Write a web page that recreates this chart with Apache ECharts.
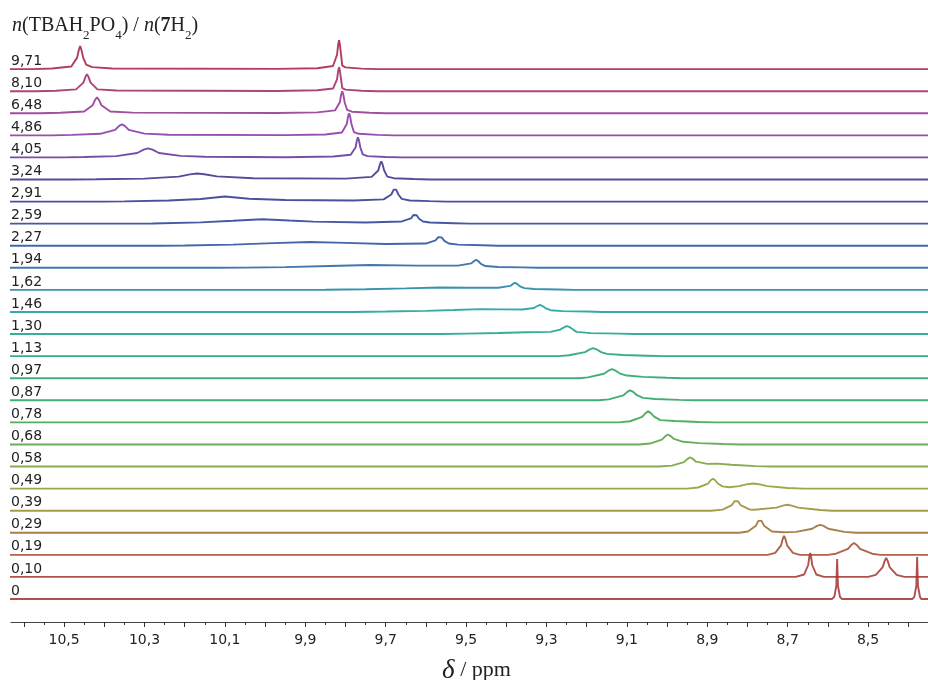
<!DOCTYPE html>
<html><head><meta charset="utf-8">
<script src="https://cdn.jsdelivr.net/npm/echarts@6/dist/echarts.min.js"></script>
<style>html,body{margin:0;padding:0;background:#fff}#c{width:928px;height:680px}</style>
</head><body><div id="c"></div>
<script>
// Ratio labels, bottom trace first
const ratioLabels = ['0','0,10','0,19','0,29','0,39','0,49','0,58','0,68','0,78','0,87','0,97','1,13','1,30','1,46','1,62','1,94','2,27','2,59','2,91','3,24','4,05','4,86','6,48','8,10','9,71'];

// Tick values (ppm)
const majorTicks = [8.4,8.5,8.6,8.7,8.8,8.9,9.0,9.1,9.2,9.3,9.4,9.5,9.6,9.7,9.8,9.9,10.0,10.1,10.2,10.3,10.4,10.5,10.6];
const minorTicks = [8.35,8.45,8.55,8.65,8.75,8.85,8.95,9.05,9.15,9.25,9.35,9.45,9.55,9.65,9.75,9.85,9.95,10.05,10.15,10.25,10.35,10.45,10.55];
const tickLabels = [8.5,8.7,8.9,9.1,9.3,9.5,9.7,9.9,10.1,10.3,10.5];

// Spectra: [ppm, intensity] (intensity in units of trace spacing)
const s0 = [[8.35,0],[8.368,0],[8.371,0.1],[8.376,0.6],[8.378,1.9],[8.380,0.6],[8.385,0.1],[8.39,0],[8.565,0],[8.570,0.1],[8.575,0.6],[8.577,1.81],[8.579,0.6],[8.584,0.1],[8.59,0],[10.64,0]];
const s1 = [[8.35,0],[8.41,0],[8.429,0.09],[8.446,0.43],[8.4515,0.74],[8.455,0.86],[8.4585,0.74],[8.464,0.43],[8.481,0.09],[8.50,0],[8.61,0],[8.629,0.11],[8.639,0.54],[8.642,0.93],[8.644,1.09],[8.646,0.93],[8.649,0.54],[8.659,0.11],[8.68,0],[10.64,0]];
const s2 = [[8.35,0],[8.47,0],[8.49,0.05],[8.52,0.27],[8.529,0.46],[8.535,0.54],[8.541,0.46],[8.55,0.27],[8.58,0.05],[8.60,0],[8.67,0],[8.687,0.09],[8.7015,0.43],[8.706,0.74],[8.709,0.86],[8.712,0.74],[8.7165,0.43],[8.731,0.09],[8.75,0],[10.64,0]];
const s3 = [[8.35,0],[8.53,0],[8.559,0.04],[8.599,0.18],[8.611,0.31],[8.619,0.36],[8.627,0.31],[8.639,0.18],[8.679,0.04],[8.71,0.02],[8.739,0.06],[8.759,0.32],[8.765,0.54],[8.769,0.63],[8.773,0.54],[8.779,0.32],[8.799,0.06],[8.82,0],[10.64,0]];
const s4 = [[8.35,0],[8.59,0],[8.619,0.03],[8.674,0.14],[8.690,0.23],[8.701,0.27],[8.712,0.23],[8.728,0.14],[8.783,0.04],[8.794,0.05],[8.817,0.25],[8.8235,0.43],[8.828,0.5],[8.8325,0.43],[8.839,0.25],[8.862,0.05],[8.89,0],[10.64,0]];
const s5 = [[8.35,0],[8.66,0],[8.70,0.03],[8.751,0.11],[8.772,0.2],[8.786,0.23],[8.80,0.2],[8.821,0.11],[8.845,0.06],[8.862,0.1],[8.874,0.23],[8.881,0.39],[8.886,0.45],[8.891,0.39],[8.898,0.23],[8.923,0.05],[8.95,0],[10.64,0]];
const s6 = [[8.35,0],[8.74,0],[8.78,0.02],[8.84,0.08],[8.876,0.13],[8.90,0.12],[8.928,0.22],[8.937,0.36],[8.943,0.41],[8.949,0.35],[8.958,0.2],[8.988,0.04],[9.02,0],[10.64,0]];
const s7 = [[8.35,0],[8.82,0],[8.86,0.02],[8.92,0.06],[8.96,0.12],[8.983,0.25],[8.992,0.39],[8.998,0.45],[9.004,0.38],[9.013,0.22],[9.043,0.04],[9.07,0],[10.64,0]];
const s8 = [[8.35,0],[8.88,0],[8.92,0.02],[8.98,0.06],[9.017,0.1],[9.032,0.26],[9.041,0.43],[9.047,0.5],[9.053,0.43],[9.062,0.25],[9.092,0.05],[9.12,0],[10.64,0]];
const s9 = [[8.35,0],[8.93,0],[8.97,0.02],[9.03,0.06],[9.06,0.11],[9.075,0.23],[9.085,0.39],[9.092,0.45],[9.099,0.38],[9.109,0.22],[9.145,0.04],[9.17,0],[10.64,0]];
const s10 = [[8.35,0],[8.96,0],[9.00,0.02],[9.06,0.06],[9.10,0.12],[9.117,0.21],[9.129,0.35],[9.137,0.41],[9.145,0.35],[9.157,0.2],[9.197,0.04],[9.22,0],[10.64,0]];
const s11 = [[8.35,0],[9.01,0],[9.05,0.02],[9.11,0.05],[9.15,0.1],[9.164,0.18],[9.176,0.31],[9.184,0.36],[9.192,0.31],[9.204,0.18],[9.244,0.04],[9.27,0],[10.64,0]];
const s12 = [[8.35,0],[9.08,0],[9.12,0.02],[9.19,0.04],[9.225,0.1],[9.232,0.18],[9.242,0.31],[9.249,0.36],[9.256,0.31],[9.266,0.2],[9.29,0.1],[9.35,0.08],[9.42,0.05],[9.50,0.02],[9.56,0],[10.64,0]];
const s13 = [[8.35,0],[9.16,0],[9.20,0.02],[9.26,0.04],[9.29,0.08],[9.301,0.16],[9.31,0.27],[9.316,0.32],[9.322,0.28],[9.331,0.18],[9.36,0.11],[9.41,0.12],[9.465,0.13],[9.53,0.09],[9.60,0.05],[9.70,0.02],[9.78,0],[10.64,0]];
const s14 = [[8.35,0],[9.23,0],[9.27,0.02],[9.33,0.04],[9.355,0.08],[9.366,0.16],[9.373,0.27],[9.378,0.32],[9.383,0.28],[9.39,0.18],[9.42,0.1],[9.49,0.1],[9.565,0.11],[9.65,0.07],[9.75,0.03],[9.85,0.01],[9.92,0],[10.64,0]];
const s15 = [[8.35,0],[9.32,0],[9.36,0.02],[9.42,0.04],[9.452,0.08],[9.463,0.18],[9.47,0.31],[9.475,0.36],[9.48,0.31],[9.487,0.2],[9.52,0.1],[9.62,0.1],[9.739,0.13],[9.84,0.08],[9.95,0.03],[10.05,0.01],[10.12,0],[10.64,0]];
const s16 = [[8.35,0],[9.42,0],[9.46,0.02],[9.52,0.05],[9.543,0.1],[9.554,0.22],[9.561,0.38],[9.565,0.45],[9.569,0.39],[9.576,0.24],[9.60,0.1],[9.70,0.08],[9.80,0.13],[9.888,0.17],[9.98,0.12],[10.08,0.05],[10.2,0.01],[10.26,0],[10.64,0]];
const s17 = [[8.35,0],[9.49,0],[9.53,0.02],[9.59,0.05],[9.607,0.1],[9.617,0.22],[9.623,0.38],[9.627,0.45],[9.631,0.39],[9.637,0.24],[9.66,0.1],[9.75,0.05],[9.88,0.09],[9.94,0.14],[10.007,0.2],[10.08,0.13],[10.16,0.06],[10.28,0.01],[10.34,0],[10.64,0]];
const s18 = [[8.35,0],[9.55,0],[9.59,0.02],[9.64,0.05],[9.66,0.12],[9.668,0.31],[9.674,0.54],[9.677,0.63],[9.680,0.54],[9.686,0.32],[9.705,0.1],[9.78,0.05],[9.95,0.07],[10.04,0.13],[10.10,0.23],[10.16,0.12],[10.24,0.05],[10.35,0.01],[10.40,0],[10.64,0]];
const s19 = [[8.35,0],[9.59,0],[9.63,0.02],[9.68,0.06],[9.696,0.13],[9.7035,0.4],[9.708,0.7],[9.711,0.82],[9.714,0.7],[9.7185,0.41],[9.735,0.12],[9.80,0.04],[10.03,0.06],[10.12,0.14],[10.151,0.24],[10.169,0.27],[10.187,0.23],[10.215,0.13],[10.30,0.04],[10.42,0.01],[10.48,0],[10.64,0]];
const s20 = [[8.35,0],[9.66,0],[9.70,0.02],[9.745,0.06],[9.757,0.14],[9.763,0.45],[9.7665,0.78],[9.769,0.91],[9.7715,0.78],[9.775,0.45],[9.787,0.12],[9.83,0.04],[9.95,0.01],[10.15,0.03],[10.21,0.07],[10.264,0.2],[10.28,0.35],[10.291,0.41],[10.302,0.35],[10.318,0.2],[10.37,0.06],[10.45,0.02],[10.50,0],[10.64,0]];
const s21 = [[8.35,0],[9.68,0],[9.72,0.02],[9.767,0.07],[9.779,0.15],[9.785,0.5],[9.7885,0.86],[9.791,1.0],[9.7935,0.86],[9.797,0.5],[9.809,0.13],[9.85,0.04],[9.95,0.01],[10.24,0.03],[10.30,0.08],[10.339,0.25],[10.349,0.43],[10.356,0.5],[10.363,0.43],[10.373,0.25],[10.41,0.07],[10.48,0.02],[10.53,0],[10.64,0]];
const s22 = [[8.35,0],[9.70,0],[9.74,0.02],[9.784,0.07],[9.796,0.15],[9.802,0.5],[9.8055,0.86],[9.808,1.0],[9.8105,0.86],[9.814,0.5],[9.826,0.13],[9.87,0.04],[9.97,0.01],[10.33,0.03],[10.385,0.08],[10.407,0.36],[10.4135,0.62],[10.418,0.72],[10.4225,0.62],[10.429,0.36],[10.45,0.08],[10.51,0.02],[10.56,0],[10.64,0]];
const s23 = [[8.35,0],[9.72,0],[9.76,0.02],[9.80,0.07],[9.808,0.14],[9.811,0.54],[9.814,0.94],[9.816,1.09],[9.818,0.94],[9.821,0.54],[9.831,0.12],[9.87,0.04],[9.97,0.01],[10.37,0.03],[10.417,0.08],[10.434,0.39],[10.4395,0.66],[10.443,0.77],[10.4465,0.66],[10.452,0.39],[10.47,0.08],[10.52,0.02],[10.57,0],[10.64,0]];
const s24 = [[8.35,0],[9.72,0],[9.76,0.02],[9.80,0.08],[9.808,0.16],[9.811,0.65],[9.814,1.13],[9.816,1.31],[9.818,1.13],[9.821,0.65],[9.831,0.14],[9.87,0.04],[9.97,0.01],[10.38,0.03],[10.43,0.09],[10.445,0.2],[10.4525,0.52],[10.457,0.89],[10.46,1.04],[10.463,0.89],[10.4675,0.52],[10.482,0.12],[10.53,0.03],[10.58,0],[10.64,0]];
const spectra = [s0,s1,s2,s3,s4,s5,s6,s7,s8,s9,s10,s11,s12,s13,s14,s15,s16,s17,s18,s19,s20,s21,s22,s23,s24];

// Trace colours (style)
const colors = ['#a2302f','#a2342c','#a0482a','#9a682a','#978a2e','#889a30','#6e9e32','#50a03c','#34a048','#22a058','#1ea064','#14a072','#12a082','#129c98','#1480a0','#205ea0','#224c9c','#243c92','#2a318c','#362c8a','#622e98','#8230a0','#922e92','#a02262','#a01c40'];

const fmt = v => v.toFixed(1).replace('.', ',');
const chart = echarts.init(document.getElementById('c'), null, {renderer: 'canvas'});
const xMin = 8.351, xMax = 10.632;
const serif = 'Liberation Serif';

const series = spectra.map((s, i) => ({
  type: 'line',
  name: ratioLabels[i],
  xAxisIndex: 0,
  yAxisIndex: 0,
  showSymbol: false,
  symbol: 'none',
  silent: true,
  animation: false,
  z: 2 + i,
  lineStyle: {color: colors[i], width: 1.9, opacity: 0.85},
  data: s.map(p => [p[0], i + p[1]])
}));

const tBase = {fontFamily: serif, fontSize: 20, color: '#222', fontWeight: 'normal', lineHeight: 26};

chart.setOption({
  animation: false,
  backgroundColor: '#fff',
  title: {
    left: 12, top: 9, padding: 0,
    text: '{i|n}{r|(TBAH}{s|2}{r|PO}{s|4}{r|) / }{i|n}{r|(}{b|7}{r|H}{s|2}{r|)}',
    textStyle: {
      fontWeight: 'normal',
      rich: {
        r: Object.assign({}, tBase),
        i: Object.assign({}, tBase, {fontStyle: 'italic'}),
        b: Object.assign({}, tBase, {fontWeight: 'bold'}),
        s: {fontFamily: serif, fontSize: 13, color: '#222', fontWeight: 'normal', verticalAlign: 'bottom', lineHeight: 33}
      }
    }
  },
  grid: {left: 11, right: 0, top: 0, bottom: 58, containLabel: false, outerBoundsMode: 'none'},
  xAxis: [{
    type: 'value', inverse: true, min: xMin, max: xMax,
    position: 'bottom',
    axisLine: {show: true, onZero: false, lineStyle: {color: '#444', width: 1}},
    axisTick: {show: true, length: 5, lineStyle: {color: '#333'}, customValues: majorTicks},
    axisLabel: {show: true, customValues: tickLabels, formatter: fmt, margin: 11,
      fontFamily: 'DejaVu Sans', fontSize: 14, color: '#222'},
    splitLine: {show: false},
    name: '{d|δ}{p| / ppm}', nameLocation: 'middle', nameGap: 35,
    nameTextStyle: {padding: [0, 0, 0, 14], rich: {
      d: {fontFamily: serif, fontSize: 27, fontStyle: 'italic', color: '#222'},
      p: {fontFamily: serif, fontSize: 22, color: '#222'}
    }}
  }, {
    type: 'value', inverse: true, min: xMin, max: xMax,
    position: 'bottom', offset: 0,
    axisLine: {show: false, onZero: false},
    axisTick: {show: true, length: 3, lineStyle: {color: '#333'}, customValues: minorTicks},
    axisLabel: {show: false},
    splitLine: {show: false}
  }],
  yAxis: {
    type: 'value', min: -1.0417, max: 27.13,
    axisLine: {show: false}, axisTick: {show: false}, splitLine: {show: false},
    axisLabel: {show: true, inside: true, margin: 0, customValues: ratioLabels.map((_, i) => i),
      formatter: v => ratioLabels[Math.round(v)], verticalAlign: 'bottom', align: 'left',
      padding: [0, 0, 1, 0], fontFamily: 'DejaVu Sans', fontSize: 14, color: '#222'}
  },
  series: series
});
</script></body></html>
